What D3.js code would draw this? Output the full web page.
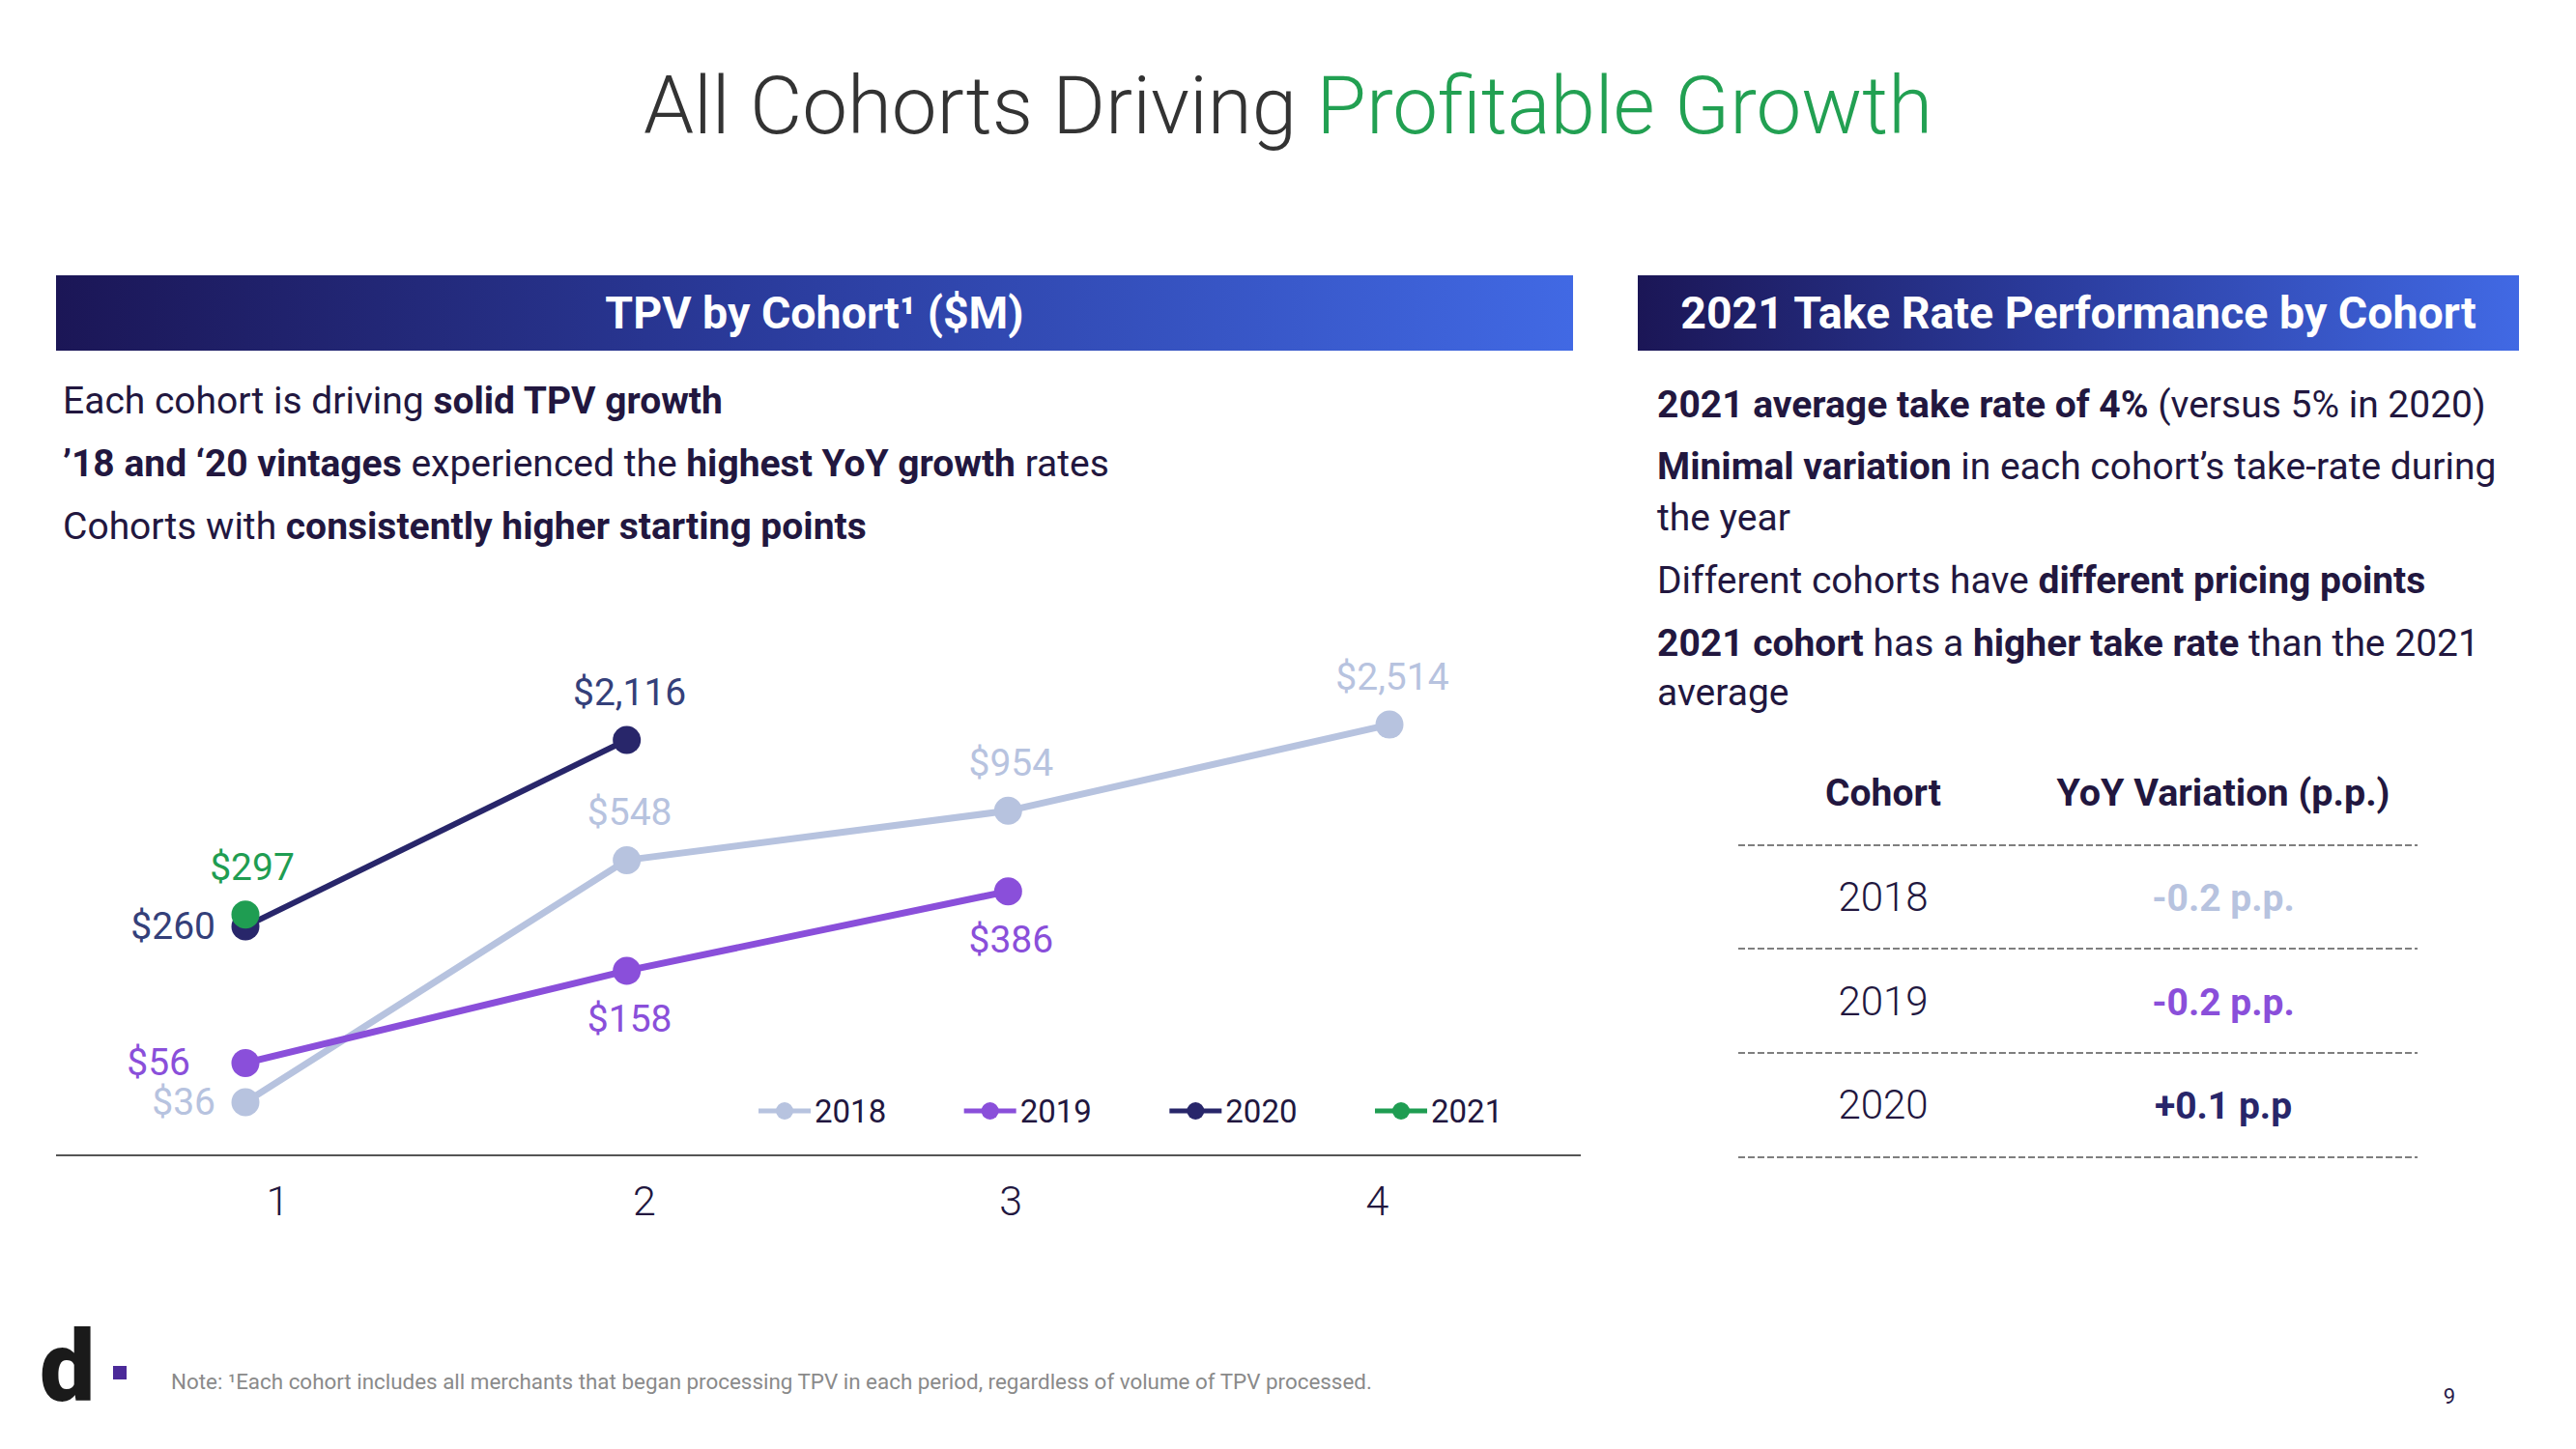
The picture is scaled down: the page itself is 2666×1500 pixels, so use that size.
<!DOCTYPE html>
<html>
<head>
<meta charset="utf-8">
<script src="https://cdn.jsdelivr.net/npm/d3@7"></script>
<style>
  html, body { margin: 0; padding: 0; background: #fff; }
  svg { display: block; font-family: Roboto, "Noto Sans", sans-serif; }
</style>
</head>
<body>
<svg id="chart" width="2666" height="1500"></svg>
<script>
// ---------------- DATA ----------------
const titleDark = "All Cohorts Driving ";
const titleGreen = "Profitable Growth";
const leftHeader = "TPV by Cohort\u00B9 ($M)";
const rightHeader = "2021 Take Rate Performance by Cohort";

const categories = [1, 2, 3, 4];
const tickLabels = ["1", "2", "3", "4"];
const cohorts = ["2018", "2019", "2020", "2021"];
const tpv2018 = [36, 548, 954, 2514];
const tpv2019 = [56, 158, 386];
const tpv2020 = [260, 2116];
const tpv2021 = [297];

const tableCohorts = ["2018", "2019", "2020"];
const tableVariation = ["-0.2 p.p.", "-0.2 p.p.", "+0.1 p.p"];

const leftBullets = [
  [["Each cohort is driving ", false], ["solid TPV growth", true]],
  [["\u201918 and \u201820 vintages", true], [" experienced the ", false], ["highest YoY growth", true], [" rates", false]],
  [["Cohorts with ", false], ["consistently higher starting points", true]]
];
const rightBullets = [
  [["2021 average take rate of 4%", true], [" (versus 5% in 2020)", false]],
  [["Minimal variation", true], [" in each cohort\u2019s take-rate during", false]],
  [["the year", false]],
  [["Different cohorts have ", false], ["different pricing points", true]],
  [["2021 cohort", true], [" has a ", false], ["higher take rate", true], [" than the 2021", false]],
  [["average", false]]
];
const footnote = "Note: \u00B9Each cohort includes all merchants that began processing TPV in each period, regardless of volume of TPV processed.";
const pageNumber = "9";

// ---------------- STYLE ----------------
const colors = { "2018": "#b7c3df", "2019": "#8a4fda", "2020": "#28266a", "2021": "#1f9d52" };
const labelColors = { "2018": "#b7c3df", "2019": "#8a4fda", "2020": "#34407a", "2021": "#1f9d52" };
const strokeW = { "2018": 7, "2019": 7, "2020": 6, "2021": 6 };
const textDark = "#22173f";
// label placement per cohort, per point: [mode, dx]
const labelPlace = {
  "2018": [["left", -31], ["above", 0], ["above", 0], ["above", 0]],
  "2019": [["left", -57], ["below", 0], ["below", 0]],
  "2020": [["left", -31], ["above", 0]],
  "2021": [["above", 4]]
};

const svg = d3.select("#chart");

// gradient
const defs = svg.append("defs");
const grad = defs.append("linearGradient").attr("id", "hdr").attr("x1", "0%").attr("x2", "100%");
grad.append("stop").attr("offset", "0%").attr("stop-color", "#1b1656");
grad.append("stop").attr("offset", "45%").attr("stop-color", "#2a3a9a");
grad.append("stop").attr("offset", "100%").attr("stop-color", "#4169e4");

// title
const title = svg.append("text").attr("x", 1333).attr("y", 138).attr("text-anchor", "middle")
  .attr("font-size", 83.5).attr("font-weight", 300);
title.append("tspan").attr("fill", "#333333").text(titleDark);
title.append("tspan").attr("fill", "#22a052").text(titleGreen);

// header bars
function header(x0, x1, txt, size) {
  svg.append("rect").attr("x", x0).attr("y", 285).attr("width", x1 - x0).attr("height", 78).attr("fill", "url(#hdr)");
  svg.append("text").attr("x", (x0 + x1) / 2).attr("y", 340).attr("text-anchor", "middle")
    .attr("fill", "#fff").attr("font-weight", 700).attr("font-size", size).text(txt);
}
header(58, 1628, leftHeader, 46.5);
header(1695, 2607, rightHeader, 46.5);

// rich text lines
function rich(x, y, segs, size) {
  const t = svg.append("text").attr("x", x).attr("y", y).attr("font-size", size).attr("fill", textDark);
  segs.forEach(s => t.append("tspan").attr("font-weight", s[1] ? 700 : 400).text(s[0]));
  return t;
}
const leftY = [428, 493, 558];
leftBullets.forEach((b, i) => rich(65, leftY[i], b, 39));
const rightY = [432, 496, 549, 614, 679, 730];
rightBullets.forEach((b, i) => rich(1715, rightY[i], b, 39));

// ---------------- CHART ----------------
const x = d3.scalePoint().domain(categories).range([254, 1438]);
const y = d3.scaleLog().domain([10, 10000]).range([1259, 623]);
const xTicks = d3.scalePoint().domain(tickLabels).range([287, 1425]);

// axis line + tick labels
svg.append("line").attr("x1", 58).attr("x2", 1636).attr("y1", 1196).attr("y2", 1196)
  .attr("stroke", "#555").attr("stroke-width", 2);
const axis = svg.append("g").attr("transform", "translate(0,1227)")
  .call(d3.axisBottom(xTicks).tickSize(0).tickPadding(0));
axis.select(".domain").remove();
axis.selectAll("text").attr("font-size", 43).attr("font-weight", 300).attr("fill", textDark)
  .attr("font-family", "Roboto").attr("dy", "0.71em");

const seriesData = { "2018": tpv2018, "2019": tpv2019, "2020": tpv2020, "2021": tpv2021 };
const line = d3.line().x((d, i) => x(categories[i])).y(d => y(d));

cohorts.forEach(c => {
  const vals = seriesData[c];
  const g = svg.append("g");
  if (vals.length > 1) {
    g.append("path").datum(vals).attr("d", line).attr("fill", "none")
      .attr("stroke", colors[c]).attr("stroke-width", strokeW[c]).attr("stroke-linejoin", "round");
  }
  g.selectAll("circle").data(vals).join("circle")
    .attr("cx", (d, i) => x(categories[i])).attr("cy", d => y(d)).attr("r", 14.5).attr("fill", colors[c]);
});

// labels (after markers)
cohorts.forEach(c => {
  const vals = seriesData[c];
  vals.forEach((v, i) => {
    const [mode, dx] = labelPlace[c][i];
    const px = x(categories[i]), py = y(v);
    const t = svg.append("text").attr("font-size", 39).attr("fill", labelColors[c])
      .attr("dominant-baseline", "central").text("$" + d3.format(",")(v));
    if (mode === "left") t.attr("x", px + dx).attr("y", py).attr("text-anchor", "end");
    else if (mode === "above") t.attr("x", px + 3 + dx).attr("y", py - 49).attr("text-anchor", "middle");
    else t.attr("x", px + 3 + dx).attr("y", py + 50).attr("text-anchor", "middle");
  });
});

// legend
const legendX = d3.scalePoint().domain(cohorts).range([812, 1450]);
cohorts.forEach(c => {
  const cx = legendX(c);
  const g = svg.append("g");
  g.append("line").attr("x1", cx - 27).attr("x2", cx + 27).attr("y1", 1150).attr("y2", 1150)
    .attr("stroke", colors[c]).attr("stroke-width", 5);
  g.append("circle").attr("cx", cx).attr("cy", 1150).attr("r", 9).attr("fill", colors[c]);
  g.append("text").attr("x", cx + 31).attr("y", 1150).attr("dominant-baseline", "central")
    .attr("font-size", 33).attr("fill", textDark).text(c);
});

// ---------------- TABLE ----------------
const colX = [1949, 2301];
svg.append("text").attr("x", colX[0]).attr("y", 834).attr("text-anchor", "middle")
  .attr("font-size", 39).attr("font-weight", 700).attr("fill", textDark).text("Cohort");
svg.append("text").attr("x", colX[1]).attr("y", 834).attr("text-anchor", "middle")
  .attr("font-size", 39.5).attr("font-weight", 700).attr("fill", textDark).text("YoY Variation (p.p.)");
const rowY = d3.scalePoint().domain(tableCohorts).range([943, 1158]);
const sepY = [875, 982, 1090, 1198];
sepY.forEach(yy => svg.append("line").attr("x1", 1799).attr("x2", 2502).attr("y1", yy).attr("y2", yy)
  .attr("stroke", "#555").attr("stroke-width", 1.6).attr("stroke-dasharray", "7,3"));
tableCohorts.forEach((c, i) => {
  svg.append("text").attr("x", colX[0]).attr("y", rowY(c)).attr("text-anchor", "middle")
    .attr("font-size", 42).attr("font-weight", 300).attr("fill", textDark).text(c);
  svg.append("text").attr("x", colX[1]).attr("y", rowY(c)).attr("text-anchor", "middle")
    .attr("font-size", 39).attr("font-weight", 700).attr("fill", colors[c]).text(tableVariation[i]);
});

// ---------------- FOOTER ----------------
svg.append("text").attr("x", 41).attr("y", 1449).attr("font-size", 102).attr("font-weight", 900)
  .attr("fill", "#1a1a1a").text("d");
svg.append("rect").attr("x", 117).attr("y", 1414).attr("width", 14).attr("height", 14).attr("fill", "#4b2a99");
svg.append("text").attr("x", 177).attr("y", 1438).attr("font-size", 22.4).attr("fill", "#8a8a8a").text(footnote);
svg.append("text").attr("x", 2535).attr("y", 1453).attr("text-anchor", "middle").attr("font-size", 22)
  .attr("fill", "#2b1d4a").text(pageNumber);
</script>
</body>
</html>
